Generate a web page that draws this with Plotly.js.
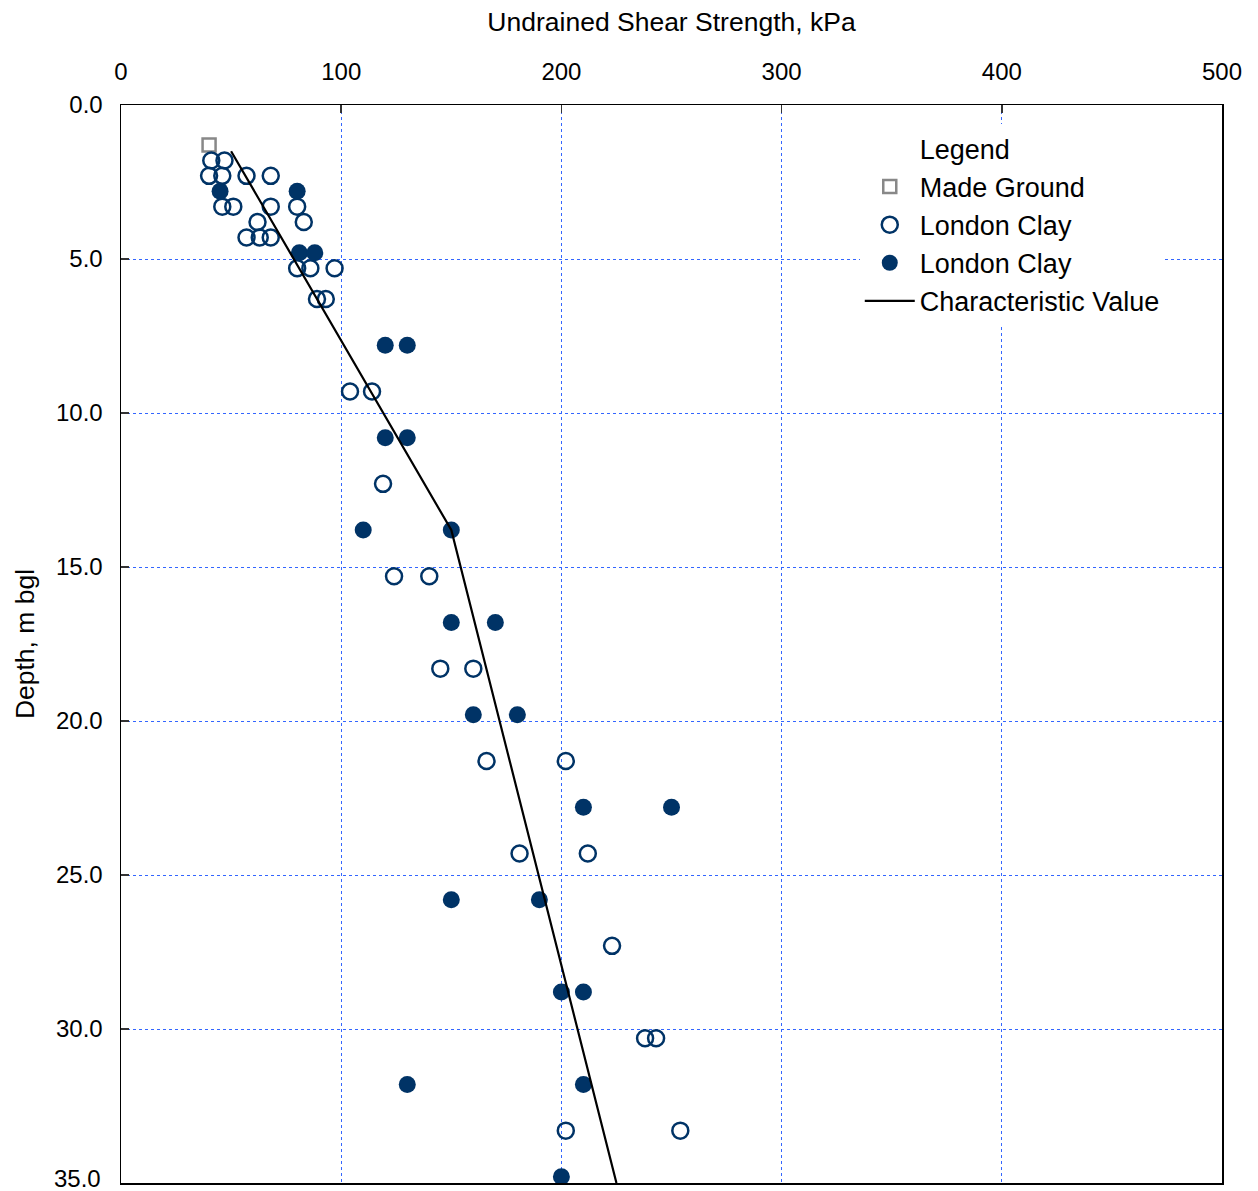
<!DOCTYPE html>
<html>
<head>
<meta charset="utf-8">
<script src="https://cdn.plot.ly/plotly-3.0.1.min.js"></script>
<style>html,body{margin:0;padding:0;background:#fff;}#chart{width:1258px;height:1191px;}</style>
</head>
<body>
<div id="chart"></div>
<script>
// Made Ground
const madeX = [40];
const madeY = [1.3];

// London Clay (open circles)
const openX = [41, 47, 40, 46, 57, 68, 46, 51, 68, 80, 62, 83, 57, 63, 68, 80, 86, 97, 89, 93, 104, 114, 119, 124, 140, 145, 160, 166, 202, 181, 212, 223, 238, 243, 202, 254];
const openY = [1.8, 1.8, 2.3, 2.3, 2.3, 2.3, 3.3, 3.3, 3.3, 3.3, 3.8, 3.8, 4.3, 4.3, 4.3, 5.3, 5.3, 5.3, 6.3, 6.3, 9.3, 9.3, 12.3, 15.3, 15.3, 18.3, 18.3, 21.3, 21.3, 24.3, 24.3, 27.3, 30.3, 30.3, 33.3, 33.3];

// London Clay (filled circles)
const fillX = [45, 80, 81, 88, 120, 130, 120, 130, 110, 150, 150, 170, 160, 180, 210, 250, 150, 190, 200, 210, 130, 210, 200];
const fillY = [2.8, 2.8, 4.8, 4.8, 7.8, 7.8, 10.8, 10.8, 13.8, 13.8, 16.8, 16.8, 19.8, 19.8, 22.8, 22.8, 25.8, 25.8, 28.8, 28.8, 31.8, 31.8, 34.8];

// Characteristic Value
const charX = [50, 150, 225];
const charY = [1.5, 13.8, 35];

const xTicks = [0, 100, 200, 300, 400, 500];
const yTicks = [0, 5, 10, 15, 20, 25, 30, 35];

const navy = '#003366';
const gridBlue = '#3366ff';
const font = {family: 'Liberation Sans, Arial, sans-serif', color: '#000'};

const traces = [
  {x: [null], y: [null], mode: 'markers', name: 'Legend', marker: {size: 1, color: 'rgba(0,0,0,0)'}, hoverinfo: 'skip'},
  {x: madeX, y: madeY, mode: 'markers', name: 'Made Ground',
   marker: {symbol: 'square-open', size: 13, color: '#888888', line: {width: 2.5, color: '#888888'}}},
  {x: openX, y: openY, mode: 'markers', name: 'London Clay',
   marker: {symbol: 'circle-open', size: 16, color: navy, line: {width: 2.5, color: navy}}},
  {x: fillX, y: fillY, mode: 'markers', name: 'London Clay',
   marker: {symbol: 'circle', size: 17, color: navy}},
  {x: charX, y: charY, mode: 'lines', name: 'Characteristic Value',
   line: {color: '#000', width: 2.2}}
];

// Bottom tick label (at the page edge, as in the reference)
const lastTick = yTicks[yTicks.length - 1];

const layout = {
  width: 1258, height: 1191,
  margin: {l: 121, r: 36, t: 105, b: 8},
  paper_bgcolor: '#fff', plot_bgcolor: '#fff',
  font: Object.assign({size: 24}, font),
  showlegend: true,
  legend: {
    x: 0.671, y: 0.982, xanchor: 'left', yanchor: 'top',
    bgcolor: '#fff', borderwidth: 0,
    font: Object.assign({size: 27}, font),
    itemwidth: 50, tracegroupgap: 0
  },
  xaxis: {
    side: 'top', range: [0, 500], tickvals: xTicks, ticktext: xTicks.map(String),
    showgrid: true, gridcolor: gridBlue, griddash: 'dot', gridwidth: 1,
    ticks: 'inside', ticklen: 8, tickcolor: '#333', tickwidth: 1.5,
    showline: true, linecolor: '#000', linewidth: 1.5, mirror: true,
    zeroline: false, ticklabelstandoff: 14,
    tickfont: Object.assign({size: 24}, font),
    title: {text: 'Undrained Shear Strength, kPa', font: Object.assign({size: 26.5}, font), standoff: 18}
  },
  yaxis: {
    range: [35, 0], tickvals: yTicks, ticktext: yTicks.map(v => v.toFixed(1)),
    showgrid: true, gridcolor: gridBlue, griddash: 'dot', gridwidth: 1,
    ticks: 'inside', ticklen: 8, tickcolor: '#333', tickwidth: 1.5,
    showline: true, linecolor: '#000', linewidth: 1.5, mirror: true,
    zeroline: false, ticklabelstandoff: 12,
    tickfont: Object.assign({size: 24}, font),
    title: {text: 'Depth, m bgl', font: Object.assign({size: 26.5}, font), standoff: 13}
  },
  annotations: [{
    x: 0, xref: 'paper', y: lastTick, yref: 'y', xanchor: 'right', yanchor: 'middle',
    xshift: -18, yshift: 5, text: lastTick.toFixed(1), showarrow: false,
    font: Object.assign({size: 24}, font)
  }]
};

Plotly.newPlot('chart', traces, layout, {displayModeBar: false, staticPlot: true});
</script>
</body>
</html>
